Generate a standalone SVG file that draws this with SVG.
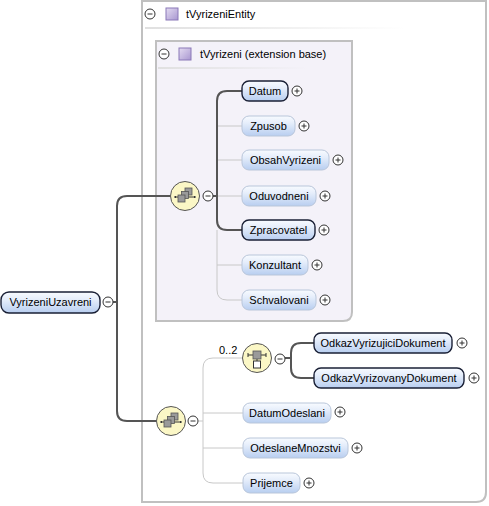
<svg xmlns="http://www.w3.org/2000/svg" width="489" height="506" viewBox="0 0 489 506">
<defs>
<linearGradient id="ng" x1="0" y1="0" x2="0" y2="1">
<stop offset="0" stop-color="#f8fbff"/>
<stop offset="0.35" stop-color="#e6eefb"/>
<stop offset="1" stop-color="#b8cef0"/>
</linearGradient>
<linearGradient id="pg" x1="0" y1="0" x2="1" y2="1">
<stop offset="0" stop-color="#e4dcf2"/>
<stop offset="1" stop-color="#a896d0"/>
</linearGradient>
<linearGradient id="ul" x1="0" y1="0" x2="1" y2="0">
<stop offset="0" stop-color="#e0e0e0"/>
<stop offset="1" stop-color="#e0e0e0" stop-opacity="0"/>
</linearGradient>
<g id="plus"><circle r="5" fill="#fff" stroke="#333" stroke-width="1"/><path d="M-2.5,0H2.5M0,-2.5V2.5" stroke="#333" stroke-width="1"/></g>
<g id="minus"><circle r="5" fill="#fff" stroke="#333" stroke-width="1"/><path d="M-2.5,0H2.5" stroke="#333" stroke-width="1"/></g>
<g id="seqicon">
<circle r="14.5" fill="#fbf7c6" stroke="#555" stroke-width="1"/>
<path d="M-10,1H10" stroke="#333" stroke-width="1"/>
<rect x="-10.5" y="0" width="1.5" height="2" fill="#333"/>
<rect x="9" y="0" width="1.5" height="2" fill="#333"/>
<rect x="0" y="-8" width="7" height="7" fill="#9a9a9a" stroke="#555" stroke-width="0.8"/>
<rect x="-3.5" y="-4.5" width="7" height="7" fill="#9a9a9a" stroke="#555" stroke-width="0.8"/>
<rect x="-7" y="-1" width="7" height="7" fill="#9a9a9a" stroke="#555" stroke-width="0.8"/>
</g>
</defs>
<style>
text{font-family:"Liberation Sans","DejaVu Sans",sans-serif;font-size:11px;fill:#000}
.n{fill:url(#ng);stroke:#b9c6da;stroke-width:1}
.nb{fill:url(#ng);stroke:#1a2036;stroke-width:1.4}
.thick{fill:none;stroke:#555;stroke-width:2}
.thin{fill:none;stroke:#c8c8c8;stroke-width:1}
.lbl{text-anchor:middle}
</style>

<g id="tVyrizeniEntity">
<path d="M142,1H486V492Q486,502 476,502H142Z" fill="#fff" stroke="#c0c0c0" stroke-width="2"/>
<use href="#minus" x="150" y="14"/>
<rect x="166" y="8" width="12" height="12" fill="url(#pg)" stroke="#8a78b8" stroke-width="1"/>
<text x="186" y="18">tVyrizeniEntity</text>
<rect x="145" y="27" width="260" height="2" fill="url(#ul)"/>
</g>

<g id="tVyrizeni">
<path d="M156,41H352V312Q352,321 343,321H156Z" fill="#f4f2f9" stroke="#c0c0c0" stroke-width="2"/>
<use href="#minus" x="164" y="54"/>
<rect x="179" y="48" width="12" height="12" fill="url(#pg)" stroke="#8a78b8" stroke-width="1"/>
<text x="200" y="58">tVyrizeni (extension base)</text>
<rect x="158" y="67" width="150" height="2" fill="url(#ul)"/>
</g>

<g id="connectors">
<path class="thick" d="M113,302H117"/>
<path class="thick" d="M170.5,196H127Q117,196 117,206V411Q117,421 127,421H156.5"/>
<path class="thick" d="M213,196H217"/>
<path class="thin" d="M217,230V290Q217,300 227,300H242M217,265H242M217,196H242M217,160H242M217,126H242"/>
<path class="thick" d="M242,91H227Q217,91 217,101V220Q217,230 227,230H242"/>
<path class="thin" d="M198,421H203"/>
<path class="thin" d="M243,358H213Q203,358 203,368V473Q203,483 213,483H243M203,413H243M203,448H243"/>
<path class="thick" d="M285,358H291"/>
<path class="thick" d="M314,343H301Q291,343 291,353V368Q291,378 301,378H314"/>
</g>

<g id="VyrizeniUzavreni">
<rect class="nb" x="1" y="292" width="99" height="21" rx="8"/>
<text class="lbl" x="50.5" y="306">VyrizeniUzavreni</text>
<use href="#minus" x="108" y="302"/>
</g>

<g id="sequence1">
<use href="#seqicon" x="185" y="196"/>
<use href="#minus" x="208" y="196"/>
</g>

<g id="sequence2">
<use href="#seqicon" x="171" y="421"/>
<use href="#minus" x="193" y="421"/>
</g>

<g id="Datum"><rect class="nb" x="242" y="81" width="46" height="20" rx="7"/><text class="lbl" x="265" y="95">Datum</text><use href="#plus" x="297" y="91"/></g>
<g id="Zpusob"><rect class="n" x="242" y="116" width="53" height="20" rx="7"/><text class="lbl" x="268.5" y="130">Zpusob</text><use href="#plus" x="304" y="126"/></g>
<g id="ObsahVyrizeni"><rect class="n" x="242" y="150" width="87" height="20" rx="7"/><text class="lbl" x="285.5" y="164">ObsahVyrizeni</text><use href="#plus" x="338" y="160"/></g>
<g id="Oduvodneni"><rect class="n" x="242" y="186" width="74" height="20" rx="7"/><text class="lbl" x="279" y="200">Oduvodneni</text><use href="#plus" x="325" y="196"/></g>
<g id="Zpracovatel"><rect class="nb" x="242" y="220" width="73" height="20" rx="7"/><text class="lbl" x="278.5" y="234">Zpracovatel</text><use href="#plus" x="324" y="230"/></g>
<g id="Konzultant"><rect class="n" x="242" y="255" width="66" height="20" rx="7"/><text class="lbl" x="275" y="269">Konzultant</text><use href="#plus" x="317" y="265"/></g>
<g id="Schvalovani"><rect class="n" x="242" y="290" width="74" height="20" rx="7"/><text class="lbl" x="279" y="304">Schvalovani</text><use href="#plus" x="325" y="300"/></g>

<g id="choice">
<text x="219" y="354" font-size="10.5">0..2</text>
<circle cx="257" cy="358" r="14.5" fill="#fbf7c6" stroke="#555" stroke-width="1"/>
<path d="M248,355H266M248,353V357M266,353V357M257,355V361" stroke="#333" stroke-width="1" fill="none"/>
<rect x="253" y="351" width="8" height="8" fill="#9a9a9a" stroke="#555" stroke-width="0.8"/>
<rect x="253.5" y="361" width="7" height="7" fill="#fff" stroke="#333" stroke-width="1"/>
<use href="#minus" x="280" y="359"/>
</g>

<g id="OdkazVyrizujiciDokument"><rect class="nb" x="314" y="333" width="138" height="20" rx="7"/><text class="lbl" x="383" y="347">OdkazVyrizujiciDokument</text><use href="#plus" x="462" y="343"/></g>
<g id="OdkazVyrizovanyDokument"><rect class="nb" x="314" y="368" width="150" height="20" rx="7"/><text class="lbl" x="389" y="382">OdkazVyrizovanyDokument</text><use href="#plus" x="474" y="378"/></g>
<g id="DatumOdeslani"><rect class="n" x="243" y="403" width="88" height="20" rx="7"/><text class="lbl" x="287" y="417">DatumOdeslani</text><use href="#plus" x="340" y="412"/></g>
<g id="OdeslaneMnozstvi"><rect class="n" x="243" y="438" width="105" height="20" rx="7"/><text class="lbl" x="295.5" y="452">OdeslaneMnozstvi</text><use href="#plus" x="357" y="448"/></g>
<g id="Prijemce"><rect class="n" x="243" y="473" width="57" height="20" rx="7"/><text class="lbl" x="271.5" y="487">Prijemce</text><use href="#plus" x="309" y="483"/></g>
</svg>
